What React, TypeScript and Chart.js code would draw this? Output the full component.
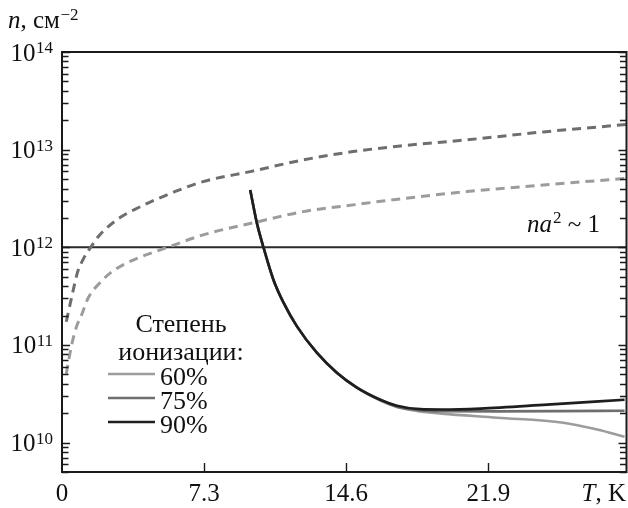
import React, { useEffect, useRef } from "react";
import { Chart, registerables } from "chart.js";

Chart.register(...registerables);

// ---- data ----
const T_60_DASH = [0.22, 0.5, 0.76, 1.01, 1.35, 1.95, 2.56, 3.24, 3.92, 4.69, 5.55, 7.25, 9.82, 12.39, 14.96, 17.38, 20.8, 24.73, 29.0];
const N_60_DASH = [5.08e10, 1.01e11, 1.57e11, 2.04e11, 3.04e11, 4.34e11, 5.61e11, 6.78e11, 7.81e11, 8.89e11, 1.02e12, 1.34e12, 1.78e12, 2.32e12, 2.72e12, 3.13e12, 3.72e12, 4.35e12, 5.08e12];

const T_75_DASH = [0.22, 0.58, 0.79, 1.1, 1.49, 1.87, 2.36, 3.07, 3.91, 4.78, 5.64, 7.25, 9.67, 12.39, 14.96, 17.38, 20.8, 24.73, 29.0];
const N_75_DASH = [1.73e11, 3.67e11, 5.48e11, 7.62e11, 1.01e12, 1.29e12, 1.62e12, 2.07e12, 2.54e12, 3.06e12, 3.61e12, 4.71e12, 5.96e12, 7.85e12, 9.55e12, 1.09e13, 1.26e13, 1.52e13, 1.81e13];

const T_90 = [9.67, 10.01, 10.35, 10.86, 11.38, 12.07, 13.09, 14.12, 15.15, 16.35, 17.21, 18.4, 19.5, 21.49, 24.92, 28.9];
const N_90 = [3.87e12, 1.78e12, 1.0e12, 4.66e11, 2.71e11, 1.55e11, 8.34e10, 5.2e10, 3.66e10, 2.75e10, 2.39e10, 2.2e10, 2.18e10, 2.23e10, 2.45e10, 2.75e10];

const T_75 = [9.67, 10.01, 10.35, 10.86, 11.38, 12.07, 13.09, 14.12, 15.15, 16.35, 17.21, 18.4, 19.5, 22.35, 25.5, 28.9];
const N_75 = [3.87e12, 1.78e12, 1.0e12, 4.66e11, 2.71e11, 1.55e11, 8.34e10, 5.2e10, 3.66e10, 2.75e10, 2.33e10, 2.15e10, 2.1e10, 2.09e10, 2.1e10, 2.12e10];

const T_60 = [9.67, 10.01, 10.35, 10.86, 11.38, 12.07, 13.09, 14.12, 15.15, 16.35, 17.21, 18.4, 19.5, 22.35, 25.76, 27.49, 28.9];
const N_60 = [3.87e12, 1.78e12, 1.0e12, 4.66e11, 2.71e11, 1.55e11, 8.34e10, 5.2e10, 3.66e10, 2.69e10, 2.31e10, 2.08e10, 1.98e10, 1.8e10, 1.6e10, 1.36e10, 1.15e10];

const T_LIMIT = [0, 29];
const N_LIMIT = [1e12, 1e12];

const X_TICK_VALUES = [0, 7.3, 14.6, 21.9];
const X_TICK_LABELS = ["0", "7.3", "14.6", "21.9"];
const Y_DECADES = [10, 11, 12, 13, 14];
const LEGEND_LABELS = ["60%", "75%", "90%"];

const X_MIN = 0;
const X_MAX = 29;
const Y_MIN = 5e9;
const Y_MAX = 1e14;

const C60 = "#9c9c9c";
const C75 = "#6e6e6e";
const C90 = "#1e1e1e";

const FONT = "'Liberation Serif', 'Times New Roman', serif";

function zip(xs: number[], ys: number[]) {
  return xs.map((x, i) => ({ x, y: ys[i] }));
}

const decor = {
  id: "decor",
  afterDraw(chart: any) {
    const { ctx, chartArea: a, scales } = chart;
    const xs = scales.x;
    const ys = scales.y;
    ctx.save();
    ctx.strokeStyle = "#1a1a1a";
    ctx.lineWidth = 2;
    ctx.strokeRect(a.left, a.top, a.right - a.left, a.bottom - a.top);

    // y ticks (inward, both sides)
    ctx.lineWidth = 1.4;
    for (let e = 9; e <= 14; e++) {
      for (let m = 1; m <= 9; m++) {
        const v = m * Math.pow(10, e);
        if (v < Y_MIN * 0.999 || v > Y_MAX * 1.001) continue;
        const y = Math.round(ys.getPixelForValue(v)) + 0.5;
        const len = m === 1 ? 8 : 6.5;
        ctx.beginPath();
        ctx.moveTo(a.left, y);
        ctx.lineTo(a.left + len, y);
        ctx.moveTo(a.right, y);
        ctx.lineTo(a.right - len, y);
        ctx.stroke();
      }
    }
    // x ticks
    X_TICK_VALUES.forEach((v) => {
      if (v === 0) return;
      const x = Math.round(xs.getPixelForValue(v)) + 0.5;
      ctx.beginPath();
      ctx.moveTo(x, a.bottom);
      ctx.lineTo(x, a.bottom - 9);
      ctx.stroke();
    });

    ctx.fillStyle = "#111";
    // x labels
    ctx.font = `25px ${FONT}`;
    ctx.textAlign = "center";
    ctx.textBaseline = "alphabetic";
    X_TICK_VALUES.forEach((v, i) => {
      ctx.fillText(X_TICK_LABELS[i], xs.getPixelForValue(v), 501);
    });
    // T, K
    ctx.textAlign = "left";
    ctx.font = `25px ${FONT}`;
    const restW = ctx.measureText(", K").width;
    ctx.fillText(", K", 626 - restW, 501);
    ctx.font = `italic 25px ${FONT}`;
    const tW = ctx.measureText("T").width;
    ctx.fillText("T", 626 - restW - tW, 501);

    // y labels
    Y_DECADES.forEach((e) => {
      const y = ys.getPixelForValue(Math.pow(10, e));
      ctx.font = `17px ${FONT}`;
      const sup = String(e);
      const sw = ctx.measureText(sup).width;
      ctx.textAlign = "left";
      ctx.fillText(sup, 53 - sw, y + 1);
      ctx.font = `25px ${FONT}`;
      ctx.textAlign = "right";
      ctx.fillText("10", 53 - sw - 0.5, y + 8.5);
    });

    // y title: n, см^-2
    ctx.textAlign = "left";
    ctx.font = `italic 25px ${FONT}`;
    ctx.fillText("n", 8, 28);
    let x = 8 + ctx.measureText("n").width;
    ctx.font = `25px ${FONT}`;
    ctx.fillText(", см", x, 28);
    x += ctx.measureText(", см").width + 0.5;
    ctx.font = `17px ${FONT}`;
    ctx.fillText("\u22122", x, 20);

    // annotation na^2 ~ 1
    ctx.font = `italic 25px ${FONT}`;
    ctx.fillText("na", 527, 232);
    x = 527 + ctx.measureText("na").width + 1;
    ctx.font = `17px ${FONT}`;
    ctx.fillText("2", x, 223);
    x += ctx.measureText("2").width;
    ctx.font = `25px ${FONT}`;
    ctx.fillText(" ~ 1", x, 232);

    // legend
    ctx.font = `26px ${FONT}`;
    ctx.textAlign = "center";
    ctx.fillText("Степень", 181, 332);
    ctx.fillText("ионизации:", 181, 360);
    const cols = [C60, C75, C90];
    const ly = [374, 398, 422];
    ctx.textAlign = "left";
    LEGEND_LABELS.forEach((lab, i) => {
      ctx.strokeStyle = cols[i];
      ctx.lineWidth = 2.6;
      ctx.beginPath();
      ctx.moveTo(108, ly[i]);
      ctx.lineTo(155, ly[i]);
      ctx.stroke();
      ctx.fillStyle = "#111";
      ctx.fillText(lab, 160, ly[i] + 11);
    });
    ctx.restore();
  },
};

export default function App() {
  const ref = useRef<HTMLCanvasElement | null>(null);
  useEffect(() => {
    if (!ref.current) return;
    const common = { pointRadius: 0, fill: false, cubicInterpolationMode: "monotone" as const };
    const chart = new Chart(ref.current, {
      type: "line",
      data: {
        datasets: [
          { label: "90%", data: zip(T_90, N_90), borderColor: C90, borderWidth: 2.6, order: 0, ...common },
          { label: "75%", data: zip(T_75, N_75), borderColor: C75, borderWidth: 2.6, order: 1, ...common },
          { label: "60%", data: zip(T_60, N_60), borderColor: C60, borderWidth: 2.6, order: 2, ...common },
          { label: "75% dash", data: zip(T_75_DASH, N_75_DASH), borderColor: C75, borderWidth: 3, borderDash: [9, 6], order: 3, ...common },
          { label: "60% dash", data: zip(T_60_DASH, N_60_DASH), borderColor: C60, borderWidth: 3, borderDash: [9, 6], order: 4, ...common },
          { label: "limit", data: zip(T_LIMIT, N_LIMIT), borderColor: "#2a2a2a", borderWidth: 2, order: 5, pointRadius: 0, tension: 0 },
        ],
      },
      options: {
        responsive: false,
        animation: false,
        devicePixelRatio: 1,
        layout: { padding: { left: 62, top: 52, right: 1.5, bottom: 36 } },
        scales: {
          x: { type: "linear", min: X_MIN, max: X_MAX, display: false },
          y: { type: "logarithmic", min: Y_MIN, max: Y_MAX, display: false },
        },
        plugins: { legend: { display: false }, tooltip: { enabled: false } },
      },
      plugins: [decor],
    });
    return () => chart.destroy();
  }, []);
  return (
    <div style={{ position: "fixed", left: 0, top: 0, width: 628, height: 508, background: "#fff" }}>
      <canvas ref={ref} width={628} height={508} style={{ display: "block" }} />
    </div>
  );
}
